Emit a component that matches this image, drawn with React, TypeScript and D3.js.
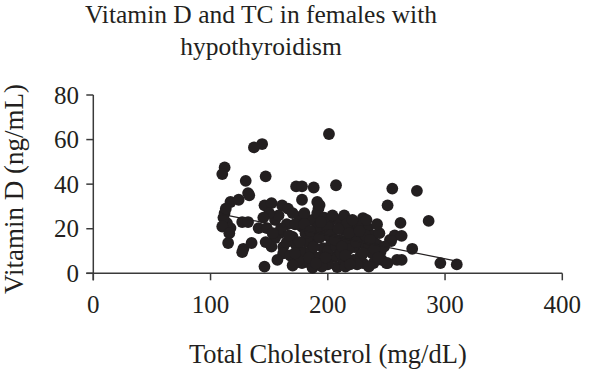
import React from "react";
import * as d3 from "d3";

const titleLines = ["Vitamin D and TC in females with", "hypothyroidism"];
const xTitle = "Total Cholesterol (mg/dL)";
const yTitle = "Vitamin D (ng/mL)";
const xTicks = [0, 100, 200, 300, 400];
const yTicks = [0, 20, 40, 60, 80];

// Total cholesterol (mg/dL)
const tcValues = [
  201, 144, 137, 112, 110, 147, 130, 132, 173, 178, 188, 207, 255, 276,
  117, 124, 133, 146, 152, 161, 166, 178, 191, 192, 251, 112,
  114, 117, 127, 132, 115, 128, 127, 135, 146,
  141, 148, 155, 159, 155, 162, 162, 176, 178, 170, 173, 179, 178, 185,
  182, 187, 191, 193, 195, 189, 196, 203, 205, 210, 214, 214, 210, 217,
  205, 208, 213, 222, 230, 234, 239, 230, 223, 238, 245, 246, 253, 257,
  250, 259, 230, 239, 200, 199, 203, 220,
  262, 286, 263, 254, 272, 263, 251, 296, 310,
  111, 113, 110, 116,
  165, 170, 168, 175, 183, 186, 190, 192, 197, 200, 200, 207, 211, 216,
  218, 220, 225, 226, 228, 232, 235, 242, 244, 248, 181, 172, 165, 158,
  150, 145, 152, 157, 187, 195, 215, 225, 242,
  160, 167, 172, 176, 180, 184, 185, 188, 193, 194, 198, 202, 204, 206,
  209, 212, 215, 218, 221, 224, 227, 230, 233, 236, 240, 243, 180, 170,
  190, 219, 235, 153, 147,
];
// Vitamin D (ng/mL)
const vitDValues = [
  62.5, 58, 56.5, 47.5, 44.5, 43.5, 41.5, 36, 39, 39, 38.5, 39.5, 38, 37,
  32, 33, 35, 30.5, 31.5, 30.5, 29, 33, 32, 29, 30.5, 27,
  22.5, 20.3, 23, 23, 13.6, 11, 9.5, 13.6, 3,
  20.3, 20.3, 24, 18, 15.8, 11.8, 9, 25.3, 20.8, 16.3, 12.7, 9.6, 4.6, 4.6,
  24, 24, 27, 30.6, 19.4, 15.8, 11.3, 24, 19.4, 24, 26, 19.4, 15, 15,
  7.3, 2.8, 6, 6, 24.8, 20.3, 17, 13.6, 11.8, 9, 9.6, 6, 15, 17,
  4.6, 6, 4.6, 4.6, 20.8, 17, 13.6, 20.8,
  22.6, 23.5, 16.8, 14.5, 11, 6, 4.6, 4.6, 4,
  25, 29, 21, 18,
  22, 27, 8, 6, 14, 10, 20, 7, 25, 10, 4, 12, 9, 22,
  11, 17, 16, 22, 8, 17, 12, 13, 18, 12, 18, 22, 14, 26,
  27, 25, 12, 6, 2.5, 3, 3, 4, 22,
  20, 17, 9, 14, 22, 7, 19, 12, 16, 23, 7, 17, 26, 15,
  20, 12, 8, 18, 24, 14, 19, 9, 24, 15, 11, 7, 27, 3.5,
  4.5, 4, 3, 18, 14,
];
// Linear trend line (intercept, slope) and its x extent
const trendCoef = [38, -0.105];
const trendExtent = [110, 310];

const W = 600;
const H = 375;

export default function App() {
  const x = d3.scaleLinear().domain([0, 400]).range([93.3, 562.3]);
  const y = d3.scaleLinear().domain([0, 80]).range([273.3, 95]);
  const pts = tcValues.map((v, i) => [v, vitDValues[i]] as [number, number]);
  const line = d3
    .line<number>()
    .x((d) => x(d))
    .y((d) => y(trendCoef[0] + trendCoef[1] * d));
  const font = "'Liberation Serif', 'Times New Roman', serif";
  const axisColor = "#3a3a3a";
  const ink = "#231f20";
  return (
    <svg
      width={W}
      height={H}
      style={{ position: "absolute", left: 0, top: 0, background: "#fff" }}
    >
      <rect width={W} height={H} fill="#fff" />
      {titleLines.map((t, i) => (
        <text
          key={t}
          x={261}
          y={23 + i * 31.5}
          textAnchor="middle"
          fontFamily={font}
          fontSize={25.5}
          fill={ink}
        >
          {t}
        </text>
      ))}
      {/* axes */}
      <line x1={x(0) - 7} x2={x(400)} y1={y(0)} y2={y(0)} stroke={axisColor} strokeWidth={1.5} />
      <line x1={x(0)} x2={x(0)} y1={y(80)} y2={y(0) + 7} stroke={axisColor} strokeWidth={1.5} />
      {yTicks.map((t) => (
        <g key={"y" + t}>
          <line x1={x(0) - 7} x2={x(0)} y1={y(t)} y2={y(t)} stroke={axisColor} strokeWidth={1.5} />
          <text
            x={79}
            y={y(t)}
            dy="0.35em"
            textAnchor="end"
            fontFamily={font}
            fontSize={25}
            fill={ink}
          >
            {t}
          </text>
        </g>
      ))}
      {xTicks.map((t) => (
        <g key={"x" + t}>
          <line x1={x(t)} x2={x(t)} y1={y(0)} y2={y(0) + 7} stroke={axisColor} strokeWidth={1.5} />
          <text
            x={x(t)}
            y={313}
            textAnchor="middle"
            fontFamily={font}
            fontSize={25}
            fill={ink}
          >
            {t}
          </text>
        </g>
      ))}
      <text
        x={x(200)}
        y={363}
        textAnchor="middle"
        fontFamily={font}
        fontSize={26.5}
        fill={ink}
      >
        {xTitle}
      </text>
      <text
        transform={`translate(23,${189}) rotate(-90)`}
        textAnchor="middle"
        fontFamily={font}
        fontSize={27}
        fill={ink}
      >
        {yTitle}
      </text>
      {/* points */}
      {pts.map((p, i) => (
        <circle key={i} cx={x(p[0])} cy={y(p[1])} r={5.9} fill={ink} />
      ))}
      {/* trend line */}
      <path d={line(trendExtent) || ""} fill="none" stroke={ink} strokeWidth={1.2} />
    </svg>
  );
}
